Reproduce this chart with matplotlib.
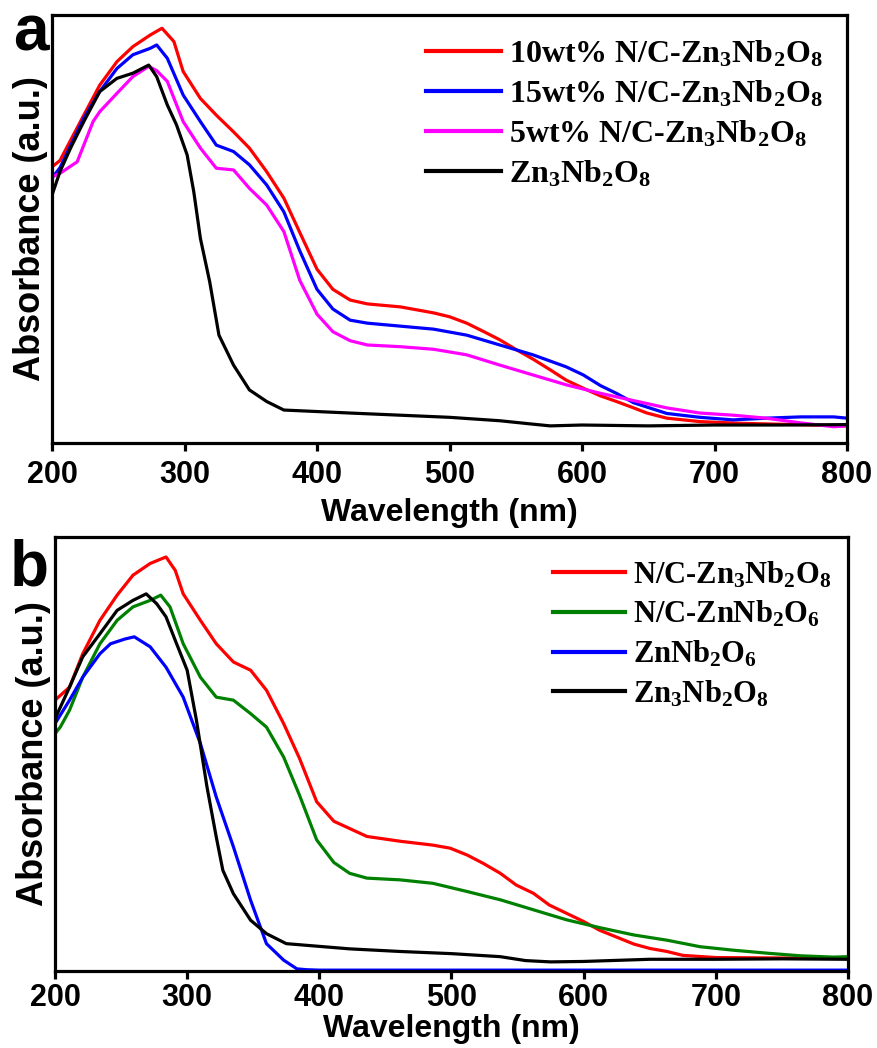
"""
UV-vis absorption spectra of N/C-Zn3Nb2O8 samples (panel a) and
the reference niobates (panel b).
"""

import matplotlib.pyplot as plt

plt.rcParams["mathtext.fontset"] = "custom"
plt.rcParams["mathtext.rm"] = "Liberation Serif:bold"
plt.rcParams["mathtext.bf"] = "Liberation Serif:bold"
plt.rcParams["mathtext.default"] = "rm"

# ---- panel a ----
a_10wt_nm = [200, 206, 224, 236, 249, 261, 274, 283, 292, 299,
             312, 324, 337, 349, 362, 375, 387, 400, 412, 425,
             438, 463, 488, 500, 513, 526, 538, 551, 563, 576,
             588, 601, 614, 626, 639, 649, 664, 689, 720, 760, 800]
a_10wt_abs = [0.645, 0.66, 0.766, 0.836, 0.891, 0.926, 0.953, 0.969, 0.938, 0.868,
              0.805, 0.766, 0.727, 0.689, 0.634, 0.572, 0.492, 0.406, 0.359, 0.334,
              0.325, 0.318, 0.304, 0.295, 0.280, 0.260, 0.241, 0.217, 0.196, 0.171,
              0.147, 0.128, 0.110, 0.097, 0.082, 0.070, 0.058, 0.050, 0.046, 0.043, 0.040]

a_15wt_nm = [200, 206, 224, 236, 249, 261, 274, 279, 287, 299,
             312, 324, 337, 349, 362, 375, 387, 400, 412, 425,
             438, 463, 488, 513, 538, 563, 588, 601, 614, 626,
             639, 664, 689, 714, 739, 765, 790, 800]
a_15wt_abs = [0.619, 0.643, 0.759, 0.821, 0.875, 0.907, 0.922, 0.930, 0.899, 0.813,
              0.751, 0.696, 0.681, 0.650, 0.603, 0.540, 0.449, 0.359, 0.313, 0.287,
              0.280, 0.273, 0.266, 0.252, 0.229, 0.206, 0.178, 0.159, 0.134, 0.116,
              0.094, 0.069, 0.060, 0.054, 0.058, 0.061, 0.061, 0.058]

a_5wt_nm = [200, 206, 219, 224, 231, 236, 249, 261, 273, 279,
            287, 299, 312, 324, 337, 349, 362, 375, 387, 400,
            412, 425, 438, 463, 488, 513, 538, 563, 588, 614,
            639, 664, 689, 714, 739, 765, 790, 800]
a_5wt_abs = [0.622, 0.630, 0.657, 0.696, 0.751, 0.774, 0.817, 0.856, 0.880, 0.870,
             0.845, 0.751, 0.689, 0.642, 0.638, 0.595, 0.556, 0.494, 0.380, 0.301,
             0.260, 0.239, 0.229, 0.225, 0.219, 0.206, 0.182, 0.159, 0.136, 0.116,
             0.099, 0.082, 0.070, 0.065, 0.058, 0.047, 0.038, 0.040]

a_zn3_nm = [200, 206, 214, 224, 236, 249, 261, 273, 279, 287,
            294, 302, 307, 312, 319, 326, 337, 349, 362, 375,
            425, 500, 538, 563, 576, 600, 650, 700, 750, 800]
a_zn3_abs = [0.579, 0.634, 0.689, 0.751, 0.821, 0.852, 0.864, 0.883, 0.856, 0.790,
             0.743, 0.673, 0.587, 0.478, 0.377, 0.252, 0.182, 0.124, 0.097, 0.077,
             0.070, 0.060, 0.052, 0.044, 0.040, 0.042, 0.040, 0.042, 0.042, 0.043]

# ---- panel b ----
b_nc_zn3_nm = [200, 211, 221, 234, 247, 259, 272, 284, 291, 297,
               310, 322, 335, 348, 360, 373, 385, 398, 411, 436,
               461, 486, 499, 512, 524, 537, 549, 562, 574, 587,
               600, 612, 625, 638, 650, 663, 675, 700, 750, 800]
b_nc_zn3_abs = [0.624, 0.654, 0.731, 0.808, 0.866, 0.912, 0.939, 0.954, 0.923, 0.869,
                0.808, 0.754, 0.712, 0.693, 0.647, 0.570, 0.490, 0.390, 0.345, 0.310,
                0.299, 0.290, 0.283, 0.267, 0.248, 0.225, 0.198, 0.179, 0.152, 0.133,
                0.114, 0.094, 0.078, 0.062, 0.052, 0.045, 0.036, 0.031, 0.030, 0.030]

b_nc_zn1_nm = [200, 204, 211, 221, 234, 247, 259, 272, 280, 287,
               297, 310, 322, 335, 348, 360, 373, 385, 398, 411,
               423, 436, 461, 486, 512, 537, 562, 587, 612, 638,
               663, 688, 713, 739, 764, 789, 800]
b_nc_zn1_abs = [0.547, 0.562, 0.601, 0.677, 0.754, 0.808, 0.839, 0.854, 0.866, 0.839,
                0.754, 0.677, 0.631, 0.624, 0.593, 0.562, 0.493, 0.405, 0.302, 0.250,
                0.225, 0.214, 0.210, 0.202, 0.183, 0.164, 0.141, 0.118, 0.100, 0.083,
                0.071, 0.056, 0.048, 0.041, 0.035, 0.032, 0.033]

b_zn1_nm = [200, 211, 221, 234, 242, 253, 260, 272, 284, 297,
            310, 322, 335, 348, 360, 373, 383, 390, 400, 500,
            600, 700, 800]
b_zn1_abs = [0.570, 0.624, 0.677, 0.731, 0.754, 0.765, 0.770, 0.747, 0.700, 0.631,
             0.524, 0.401, 0.286, 0.163, 0.063, 0.025, 0.005, 0.003, 0.002, 0.002,
             0.002, 0.002, 0.002]

b_zn3_nm = [200, 211, 221, 234, 247, 259, 269, 277, 284, 292,
            300, 307, 315, 322, 327, 335, 348, 360, 375, 423,
            461, 500, 537, 556, 575, 600, 650, 700, 750, 800]
b_zn3_abs = [0.581, 0.654, 0.724, 0.777, 0.831, 0.854, 0.869, 0.846, 0.816, 0.754,
             0.693, 0.578, 0.424, 0.309, 0.232, 0.178, 0.117, 0.086, 0.063, 0.051,
             0.045, 0.040, 0.033, 0.024, 0.021, 0.022, 0.027, 0.027, 0.028, 0.027]

ZN3 = r"Zn$_3$Nb$_2$O$_8$"
ZN1 = r"ZnNb$_2$O$_6$"

panel_a = [
    (a_10wt_nm, a_10wt_abs, "#ff0000", "10wt% N/C-" + ZN3),
    (a_15wt_nm, a_15wt_abs, "#0000ff", "15wt% N/C-" + ZN3),
    (a_5wt_nm, a_5wt_abs, "#ff00ff", "5wt% N/C-" + ZN3),
    (a_zn3_nm, a_zn3_abs, "#000000", ZN3),
]
panel_b = [
    (b_nc_zn3_nm, b_nc_zn3_abs, "#ff0000", "N/C-" + ZN3),
    (b_nc_zn1_nm, b_nc_zn1_abs, "#008000", "N/C-" + ZN1),
    (b_zn1_nm, b_zn1_abs, "#0000ff", ZN1),
    (b_zn3_nm, b_zn3_abs, "#000000", ZN3),
]

SANS = ["Liberation Sans", "Arial", "DejaVu Sans"]


def draw_panel(ax, series, letter, letter_xy, legend_anchor, legend_size,
               tickpad, xlabelpad):
    for nm, absb, color, label in series:
        ax.plot(nm, absb, color=color, lw=2.3, label=label)

    ax.set_xlim(200, 800)
    ax.set_ylim(0, 1)
    ax.set_xticks(range(200, 801, 100))
    ax.set_yticks([])
    for sp in ax.spines.values():
        sp.set_linewidth(2.3)
    ax.tick_params(axis="x", direction="out", length=6, width=2.3, pad=tickpad)
    for lbl in ax.get_xticklabels():
        lbl.set_fontfamily(SANS)
        lbl.set_fontweight("bold")
        lbl.set_fontsize(22)

    ax.set_xlabel("Wavelength (nm)", family=SANS, fontweight="bold",
                  fontsize=23, labelpad=xlabelpad)
    ax.set_ylabel("Absorbance (a.u.)", family=SANS, fontweight="bold",
                  fontsize=26, labelpad=3)

    leg = ax.legend(loc="upper right", bbox_to_anchor=legend_anchor,
                    frameon=False, handlelength=2.35, handletextpad=0.25,
                    labelspacing=0.3, borderaxespad=0,
                    prop={"family": "Liberation Serif", "weight": "bold",
                          "size": legend_size})
    for line in leg.get_lines():
        line.set_linewidth(3.0)

    ax.text(letter_xy[0], letter_xy[1], letter, transform=ax.transAxes,
            family=SANS, fontweight="bold", fontsize=46,
            ha="center", va="baseline")


fig = plt.figure(figsize=(8.78, 10.48), dpi=100)
ax_a = fig.add_axes([52 / 878, 1 - 443 / 1048, 795 / 878, 428 / 1048])
ax_b = fig.add_axes([55 / 878, 1 - 971 / 1048, 793 / 878, 434 / 1048])

draw_panel(ax_a, panel_a, "a", (-0.026, 0.918), (0.985, 0.974), 23, 6, 6)
draw_panel(ax_b, panel_b, "b", (-0.033, 0.889), (0.994, 0.976), 22, 3, 0)

fig.savefig("out.png", dpi=100)
